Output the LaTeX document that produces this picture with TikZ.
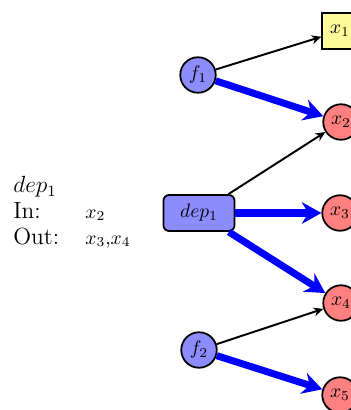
\documentclass[tikz,border=0pt]{standalone}
\usetikzlibrary{arrows.meta}
\begin{document}
\begin{tikzpicture}[x=0.5128pt,y=-0.5128pt,
  fnode/.style={circle,draw,line width=0.9pt,fill=blue!45,minimum size=18.2pt,inner sep=0pt},
  xnode/.style={circle,draw,line width=0.9pt,fill=red!50,minimum size=18.2pt,inner sep=0pt},
  ynode/.style={rectangle,draw,line width=0.9pt,fill=yellow!40,minimum size=18.2pt,inner sep=0pt},
  depnode/.style={rectangle,rounded corners=3pt,draw,line width=0.9pt,fill=blue!45,minimum width=36.5pt,minimum height=18.5pt,inner sep=0pt},
  thin arr/.style={-{Stealth[length=5pt,width=4.5pt]},line width=1pt,black},
  thick arr/.style={-{Stealth[length=10pt,width=11pt]},line width=3.6pt,blue},
  lbl/.style={anchor=base west,inner sep=0pt}]
\useasboundingbox (0,0) rectangle (350,410);
\node[fnode] (f1) at (198,75) {$f_1$};
\node[fnode] (f2) at (199,350) {$f_2$};
\node[depnode] (dep) at (199,213) {$dep_1$};
\node[ynode] (x1) at (340,31) {$x_1$};
\node[xnode] (x2) at (341,122) {$x_2$};
\node[xnode] (x3) at (340,213) {$x_3$};
\node[xnode] (x4) at (341,303) {$x_4$};
\node[xnode] (x5) at (340,395) {$x_5$};
\draw[thin arr] (f1) -- (x1);
\draw[thick arr] (f1) -- (x2);
\draw[thin arr] (dep) -- (x2);
\draw[thick arr] (dep) -- (x3);
\draw[thick arr] (dep) -- (x4);
\draw[thin arr] (f2) -- (x4);
\draw[thick arr] (f2) -- (x5);
\node[lbl,font=\large] (t1) at (13,193) {$dep_1$};
\node[lbl,font=\large] (t2) at (13,218) {In:};
\node[lbl,font=\large] (t3) at (13,244) {Out:};
\node[lbl] (t4) at (85,218) {$x_2$};
\node[lbl] (t5) at (85,244) {$x_3$,$x_4$};
\end{tikzpicture}
\end{document}
